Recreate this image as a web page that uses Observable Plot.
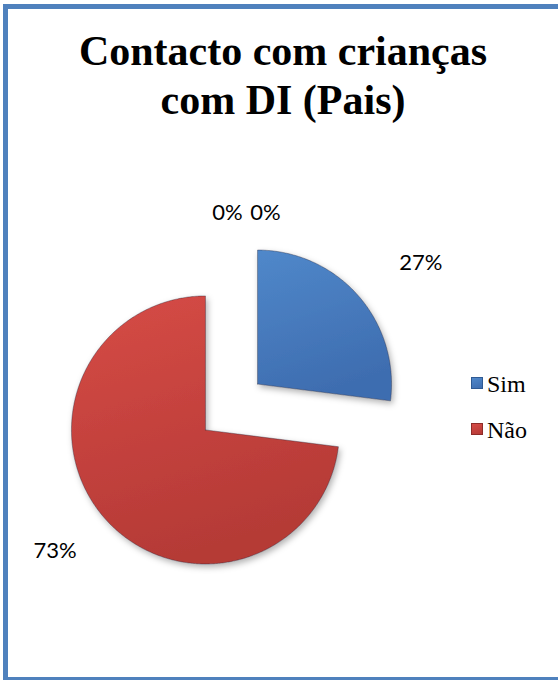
<!DOCTYPE html>
<html><head><meta charset="utf-8">
<script src="https://cdn.jsdelivr.net/npm/d3@7"></script>
<script src="https://cdn.jsdelivr.net/npm/@observablehq/plot@0.6"></script>
<style>
body{margin:0;background:#fff;}
#wrap{position:relative;width:558px;height:680px;overflow:hidden;background:#fff;}
#frame{position:absolute;left:3px;top:4px;width:620px;height:678px;border:5px solid #4f81bd;box-sizing:border-box;z-index:3;pointer-events:none;}
#title{position:absolute;left:4px;top:27px;width:558px;text-align:center;font-family:"Liberation Serif","Times New Roman",serif;font-weight:bold;font-size:42px;line-height:49px;color:#000;}
#chart{position:absolute;left:0;top:140px;}
.leg{position:absolute;font-family:"Liberation Serif","Times New Roman",serif;font-size:24px;line-height:24px;color:#000;white-space:nowrap;}
.sw{position:absolute;width:12px;height:12px;box-sizing:border-box;}
</style></head><body>
<div id="wrap">
 <div id="frame"></div>
 <div id="title">Contacto com crianças<br>com DI (Pais)</div>
 <div id="chart"></div>
 <div id="legend"></div>
</div>
<script>
// ---- data ----
const categories = ["Sim", "Não", "Outro A", "Outro B"];
const values = [27, 73, 0, 0];
const legendCategories = ["Sim", "Não"];
// ---- styles ----
const gradStops = [["#5088ca", "#3e6db0"], ["#d64b46", "#b53a36"], ["#999", "#777"], ["#999", "#777"]];
const edgeColors = ["#2f5a94", "#8e2c29"];

const R = 134, CX = 231, CY = 266.5, W = 558, H = 530;
const EXPLODE = 0.259, LABEL_R = 1.62, ZERO_R = 1.45;

const total = d3.sum(values);
const slices = d3.pie().sort(null).value(d => d.value)(categories.map((c, i) => ({cat: c, value: values[i]})));

const poly = [];
slices.forEach(s => {
  if (s.value <= 0) return;
  const mid = (s.startAngle + s.endAngle) / 2;
  const ox = EXPLODE * Math.sin(mid), oy = EXPLODE * Math.cos(mid);
  const cat = s.data.cat;
  poly.push({cat, x: ox, y: oy});
  const n = Math.max(2, Math.ceil((s.endAngle - s.startAngle) / 0.01));
  for (let k = 0; k <= n; k++) {
    const t = s.startAngle + (s.endAngle - s.startAngle) * k / n;
    poly.push({cat, x: ox + Math.sin(t), y: oy + Math.cos(t)});
  }
  poly.push({cat, x: ox, y: oy});
});

let zi = 0;
const labels = slices.map(s => {
  const mid = (s.startAngle + s.endAngle) / 2;
  const zero = s.value === 0;
  const r = zero ? ZERO_R : LABEL_R;
  const k = zero ? zi++ : 0;
  return {
    text: Math.round(s.value / total * 100) + "%",
    x: r * Math.sin(mid) + (zero ? (k * 38 - 4) / R : 0),
    y: r * Math.cos(mid),
    side: zero ? "zero" : (Math.sin(mid) >= 0 ? "right" : "left")
  };
});

const textOpts = {x: "x", y: "y", text: "text", fontFamily: "Lato, 'Open Sans', sans-serif", fontSize: 22, fill: "#000"};

const svg = Plot.plot({
  width: W, height: H, margin: 0,
  style: {background: "transparent", overflow: "visible"},
  x: {domain: [-CX / R, (W - CX) / R], axis: null},
  y: {domain: [-(H - CY) / R, CY / R], axis: null},
  color: {domain: categories, range: categories.map((c, i) => `url(#g${i})`)},
  marks: [
    Plot.line(poly, {x: "x", y: "y", z: "cat", fill: "cat", stroke: "rgba(30,30,50,0.45)", strokeWidth: 0.8, curve: "linear"}),
    Plot.text(labels.filter(d => d.side === "right"), {...textOpts, textAnchor: "start", dx: 5}),
    Plot.text(labels.filter(d => d.side === "left"), {...textOpts, textAnchor: "end", dx: 8}),
    Plot.text(labels.filter(d => d.side === "zero"), {...textOpts, textAnchor: "middle"})
  ]
});

const defs = d3.select(svg).insert("defs", ":first-child");
gradStops.forEach((st, i) => {
  const g = defs.append("linearGradient").attr("id", `g${i}`).attr("x1", 0).attr("y1", 0).attr("x2", 0.3).attr("y2", 1);
  g.append("stop").attr("offset", "0%").attr("stop-color", st[0]);
  g.append("stop").attr("offset", "100%").attr("stop-color", st[1]);
});
const f = defs.append("filter").attr("id", "sh").attr("x", "-20%").attr("y", "-20%").attr("width", "140%").attr("height", "140%");
f.append("feDropShadow").attr("dx", 2).attr("dy", 3).attr("stdDeviation", 3).attr("flood-color", "#000").attr("flood-opacity", 0.3);
d3.select(svg).selectAll('g[aria-label="line"]').attr("filter", "url(#sh)");

document.getElementById("chart").appendChild(svg);

const leg = document.getElementById("legend");
legendCategories.forEach((c, i) => {
  const idx = categories.indexOf(c);
  const sw = document.createElement("div");
  sw.className = "sw";
  sw.style.left = "471px";
  sw.style.top = (377 + 46 * i) + "px";
  sw.style.background = `linear-gradient(160deg, ${gradStops[idx][0]}, ${gradStops[idx][1]})`;
  sw.style.border = `1px solid ${edgeColors[idx]}`;
  leg.appendChild(sw);
  const t = document.createElement("div");
  t.className = "leg";
  t.style.left = "487px";
  t.style.top = (372 + 46 * i) + "px";
  t.textContent = c;
  leg.appendChild(t);
});
</script>
</body></html>
